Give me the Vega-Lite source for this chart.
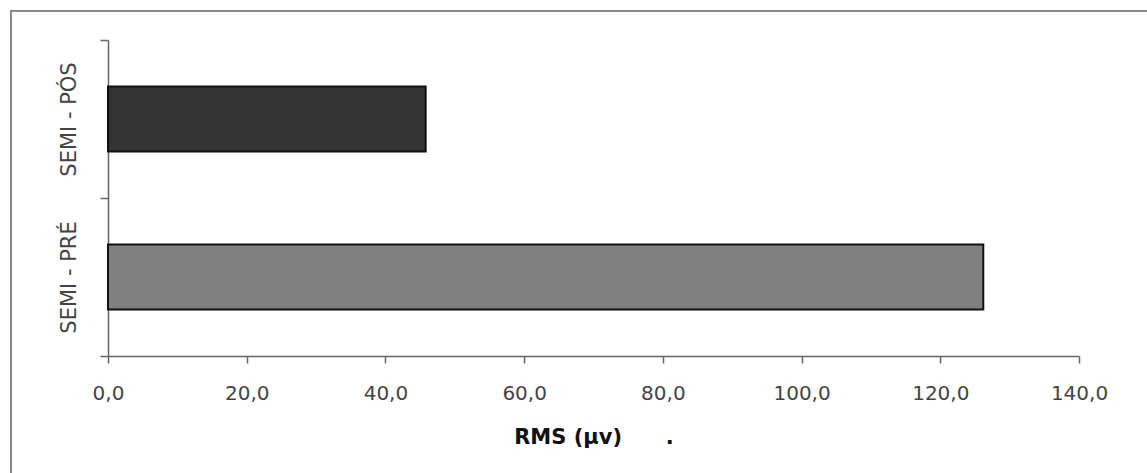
{
  "$schema": "https://vega.github.io/schema/vega-lite/v6.json",
  "width": 1142,
  "height": 468,
  "autosize": {"type": "none"},
  "padding": {"left": 11, "top": 11, "right": -6, "bottom": -6},
  "background": "white",
  "config": {"view": {"stroke": "#8a8a8a", "strokeWidth": 2}},
  "data": {"values": [
    {"grupo": "SEMI - PÓS", "rms": 45.8},
    {"grupo": "SEMI - PRÉ", "rms": 126.2}
  ]},
  "mark": {"type": "bar", "stroke": "#111111", "strokeWidth": 2, "height": {"band": 0.41}},
  "encoding": {
    "y": {
      "field": "grupo", "type": "nominal",
      "sort": ["SEMI - PÓS", "SEMI - PRÉ"],
      "scale": {"range": [29, 345], "paddingInner": 0, "paddingOuter": 0},
      "axis": {
        "orient": "left", "offset": -97, "title": null, "grid": false,
        "domainColor": "#666666", "domainWidth": 1.5,
        "tickColor": "#666666", "tickWidth": 1.5, "tickSize": 8, "tickBand": "extent",
        "labelAngle": -90, "labelAlign": "center", "labelBaseline": "alphabetic",
        "labelFont": "DejaVu Sans", "labelFontSize": 21, "labelColor": "#444444",
        "labelPadding": 25
      }
    },
    "x": {
      "field": "rms", "type": "quantitative",
      "scale": {"domain": [0, 140], "range": [97, 1068], "nice": false},
      "axis": {
        "orient": "bottom", "offset": -123, "grid": false,
        "values": [0, 20, 40, 60, 80, 100, 120, 140],
        "labelExpr": "replace(format(datum.value, '.1f'), '.', ',')",
        "labelFlush": false, "labelOverlap": false,
        "domainColor": "#666666", "domainWidth": 1.5,
        "tickColor": "#666666", "tickWidth": 1.5, "tickSize": 7,
        "labelFont": "DejaVu Sans", "labelFontSize": 20, "labelColor": "#444444",
        "labelBaseline": "alphabetic", "labelPadding": 36,
        "title": "RMS (µv)\u00a0\u00a0\u00a0\u00a0\u00a0\u00a0.",
        "titleFont": "DejaVu Sans", "titleFontWeight": "bold", "titleFontSize": 21,
        "titleColor": "#111111", "titleY": 87, "titleBaseline": "alphabetic"
      }
    },
    "color": {
      "field": "grupo", "type": "nominal",
      "scale": {"domain": ["SEMI - PÓS", "SEMI - PRÉ"], "range": ["#333333", "#808080"]},
      "legend": null
    }
  }
}
